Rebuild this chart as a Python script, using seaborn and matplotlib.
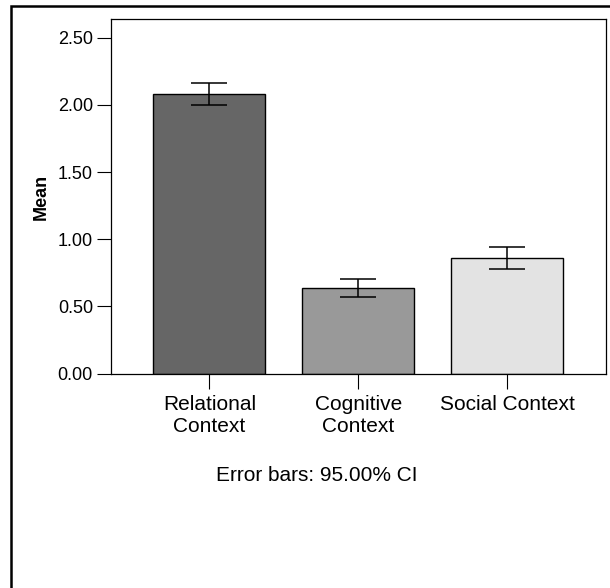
import numpy as np
import pandas as pd
import matplotlib.pyplot as plt
import matplotlib.ticker as ticker
import seaborn as sns
from matplotlib.patches import Rectangle

# values
categories = ["Relational\nContext", "Cognitive\nContext", "Social Context"]
means = [2.08, 0.64, 0.86]
ci_low = [2.00, 0.57, 0.78]
ci_high = [2.165, 0.705, 0.94]
bar_colors = ["#666666", "#999999", "#e3e3e3"]
y_ticks = [0.0, 0.5, 1.0, 1.5, 2.0, 2.5]

sns.set_theme(style="ticks")
plt.rcParams['font.family'] = ['Liberation Sans', 'DejaVu Sans']
plt.rcParams['axes.edgecolor'] = 'black'
plt.rcParams['axes.linewidth'] = 0.9
plt.rcParams['xtick.color'] = 'black'
plt.rcParams['ytick.color'] = 'black'
plt.rcParams['text.color'] = 'black'
plt.rcParams['axes.labelcolor'] = 'black'

fig = plt.figure(figsize=(6.1, 5.88), dpi=100)
ax = fig.add_axes([0.182, 0.3645, 0.8115, 0.6024])

df = pd.DataFrame({"Context": categories, "Mean": means})
sns.barplot(data=df, x="Context", y="Mean", hue="Context", palette=bar_colors,
            legend=False, width=0.75, edgecolor="black", linewidth=1,
            errorbar=None, ax=ax)

pos = np.arange(len(categories))
m = np.array(means)
yerr = [m - np.array(ci_low), np.array(ci_high) - m]
ax.errorbar(pos, m, yerr=yerr, fmt='none', ecolor='black',
            elinewidth=1.1, capsize=13, capthick=1.1)

ax.set_xlim(-0.66, 2.663)
ax.set_ylim(0, 2.635)
ax.set_yticks(y_ticks)
ax.yaxis.set_major_formatter(ticker.FormatStrFormatter('%.2f'))

for s in ax.spines.values():
    s.set_visible(True)
    s.set_color('black')

ax.tick_params(axis='y', direction='out', length=10, width=0.8, pad=3, labelsize=13)
ax.tick_params(axis='x', direction='out', length=11, width=0.8, pad=4, labelsize=15)

ax.set_xlabel("")
ax.set_ylabel("Mean", fontsize=13, fontweight='bold')
ax.yaxis.set_label_coords(-0.123, 0.5)

fig.text(317 / 610, (588 - 481) / 588, "Error bars: 95.00% CI",
         ha='center', va='baseline', fontsize=15)

# outer frame (only top and left edges fall inside the image)
fig.patches.append(Rectangle((11.2 / 610, -0.1), 1.2, 1.1 - 6.2 / 588,
                             transform=fig.transFigure, fill=False,
                             edgecolor='black', linewidth=1.8, clip_on=False))

fig.savefig("out.png", dpi=100)
